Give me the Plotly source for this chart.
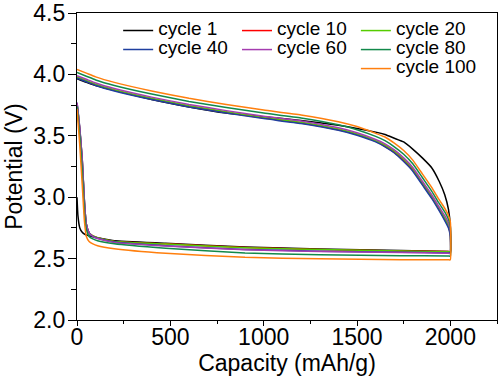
import plotly.graph_objects as go

# ---- data -------------------------------------------------------------
CYCLES = ["cycle 1", "cycle 10", "cycle 20", "cycle 40", "cycle 60", "cycle 80", "cycle 100"]
COLORS = ["#000000", "#ff0000", "#55cc00", "#1f3f9f", "#a53cb0", "#12894a", "#ff7f0e"]

# discharge (lower branch), capacity increasing
D_CAP = [0, 5, 15, 28, 40, 50, 65, 85, 110, 200, 475, 900, 1300, 1735, 1990, 2000]
D1 = [3.00, 2.85, 2.75, 2.715, 2.70, 2.692, 2.685, 2.677, 2.67, 2.645, 2.625, 2.595, 2.578, 2.565, 2.557, 2.556]
D10 = [3.76, 3.70, 3.55, 3.30, 2.95, 2.78, 2.71, 2.685, 2.67, 2.64, 2.62, 2.59, 2.575, 2.562, 2.557, 2.556]
D20 = [3.76, 3.70, 3.55, 3.30, 2.95, 2.78, 2.71, 2.685, 2.67, 2.64, 2.618, 2.588, 2.574, 2.561, 2.556, 2.555]
D40 = [3.77, 3.71, 3.56, 3.31, 2.96, 2.78, 2.71, 2.68, 2.665, 2.635, 2.605, 2.575, 2.56, 2.552, 2.546, 2.545]
D60 = [3.77, 3.71, 3.56, 3.31, 2.96, 2.78, 2.71, 2.68, 2.663, 2.632, 2.603, 2.572, 2.558, 2.55, 2.543, 2.542]
D80 = [3.74, 3.67, 3.50, 3.22, 2.88, 2.74, 2.68, 2.66, 2.645, 2.62, 2.584, 2.545, 2.532, 2.524, 2.521, 2.52]
D100 = [3.72, 3.62, 3.42, 3.10, 2.80, 2.68, 2.64, 2.62, 2.605, 2.58, 2.543, 2.51, 2.498, 2.49, 2.49, 2.49]

# charge (upper branch), capacity decreasing
C_CAP = [2000, 1990, 1970, 1940, 1900, 1850, 1800, 1750, 1700, 1650, 1600, 1500, 1400, 1200,
         1000, 800, 600, 400, 200, 100, 50, 0]
C1 = [2.76, 2.90, 3.02, 3.13, 3.24, 3.32, 3.39, 3.45, 3.48, 3.51, 3.53, 3.56, 3.585, 3.625,
      3.655, 3.685, 3.735, 3.795, 3.87, 3.91, 3.935, 3.965]
C10 = [2.70, 2.76, 2.82, 2.90, 3.00, 3.11, 3.22, 3.30, 3.365, 3.415, 3.455, 3.51, 3.55, 3.605,
       3.645, 3.69, 3.74, 3.80, 3.87, 3.915, 3.945, 3.975]
C20 = [2.71, 2.77, 2.83, 2.91, 3.01, 3.12, 3.23, 3.31, 3.375, 3.425, 3.46, 3.515, 3.555, 3.61,
       3.65, 3.695, 3.745, 3.805, 3.875, 3.92, 3.95, 3.98]
C40 = [2.68, 2.75, 2.81, 2.89, 2.99, 3.10, 3.21, 3.29, 3.36, 3.41, 3.45, 3.505, 3.545, 3.60,
       3.64, 3.685, 3.735, 3.795, 3.865, 3.91, 3.94, 3.97]
C60 = [2.73, 2.79, 2.85, 2.92, 3.02, 3.13, 3.24, 3.32, 3.385, 3.435, 3.47, 3.525, 3.565, 3.62,
       3.66, 3.705, 3.755, 3.815, 3.885, 3.93, 3.96, 3.99]
C80 = [2.76, 2.82, 2.88, 2.95, 3.05, 3.16, 3.27, 3.35, 3.41, 3.46, 3.495, 3.55, 3.59, 3.645,
       3.685, 3.73, 3.78, 3.84, 3.91, 3.955, 3.985, 4.015]
C100 = [2.80, 2.85, 2.91, 2.98, 3.08, 3.19, 3.30, 3.38, 3.44, 3.49, 3.52, 3.575, 3.615, 3.67,
        3.71, 3.755, 3.805, 3.865, 3.935, 3.98, 4.01, 4.04]

DISCHARGE = [D1, D10, D20, D40, D60, D80, D100]
CHARGE = [C1, C10, C20, C40, C60, C80, C100]
LEGEND_OF = ["legend", "legend2", "legend3", "legend", "legend2", "legend3", "legend3"]

X_TICKS = [0, 500, 1000, 1500, 2000]
Y_TICKS = [2.0, 2.5, 3.0, 3.5, 4.0, 4.5]

FONT = "Liberation Sans, Arial, sans-serif"

# ---- figure -----------------------------------------------------------
fig = go.Figure()
for name, col, d, c, lg in zip(CYCLES, COLORS, DISCHARGE, CHARGE, LEGEND_OF):
    fig.add_trace(go.Scatter(
        x=D_CAP + C_CAP, y=d + c, mode="lines", name='<span style="font-size:19px">' + name + "</span>",
        line=dict(color=col, width=1.5, shape="spline", smoothing=0.4), legend=lg,
    ))

leg_common = dict(font=dict(family=FONT, size=12, color="black"), bgcolor="rgba(0,0,0,0)",
                  borderwidth=0, xanchor="left", yanchor="top", tracegroupgap=0,
                  itemwidth=30)
fig.update_layout(
    width=500, height=385,
    margin=dict(l=77, r=3, t=13, b=65, autoexpand=False),
    paper_bgcolor="white", plot_bgcolor="white",
    font=dict(family=FONT, color="black"),
    showlegend=True,
    legend=dict(x=0.098, y=0.99, **leg_common),
    legend2=dict(x=0.381, y=0.99, **leg_common),
    legend3=dict(x=0.664, y=0.99, **leg_common),
    xaxis=dict(
        range=[0, 2250], tickvals=X_TICKS, ticks="outside", ticklen=5, tickwidth=1.2,
        tickcolor="black", showline=True, linecolor="black", linewidth=1.2, mirror=True,
        showgrid=False, zeroline=False, tickfont=dict(size=23), automargin=False,
        ticklabelstandoff=-9,
        minor=dict(dtick=250, ticks="outside", ticklen=3, tickcolor="black", tickwidth=1.2, showgrid=False),
        title=dict(text="Capacity (mAh/g)", font=dict(size=23), standoff=0),
    ),
    yaxis=dict(
        range=[2.0, 4.5], tickvals=Y_TICKS, tickformat=".1f", ticks="outside", ticklen=8,
        tickwidth=1.2, tickcolor="black", showline=True, linecolor="black", linewidth=1.2,
        mirror=True, showgrid=False, zeroline=False, tickfont=dict(size=23), automargin=False,
        ticklabelstandoff=-2,
        minor=dict(dtick=0.25, ticks="outside", ticklen=5, tickcolor="black", tickwidth=1.2, showgrid=False),
        title=dict(text="Potential (V)", font=dict(size=23), standoff=4),
    ),
)

fig.write_html("out.html", config={"displayModeBar": False},
               post_script="document.body.style.margin='0px';")
